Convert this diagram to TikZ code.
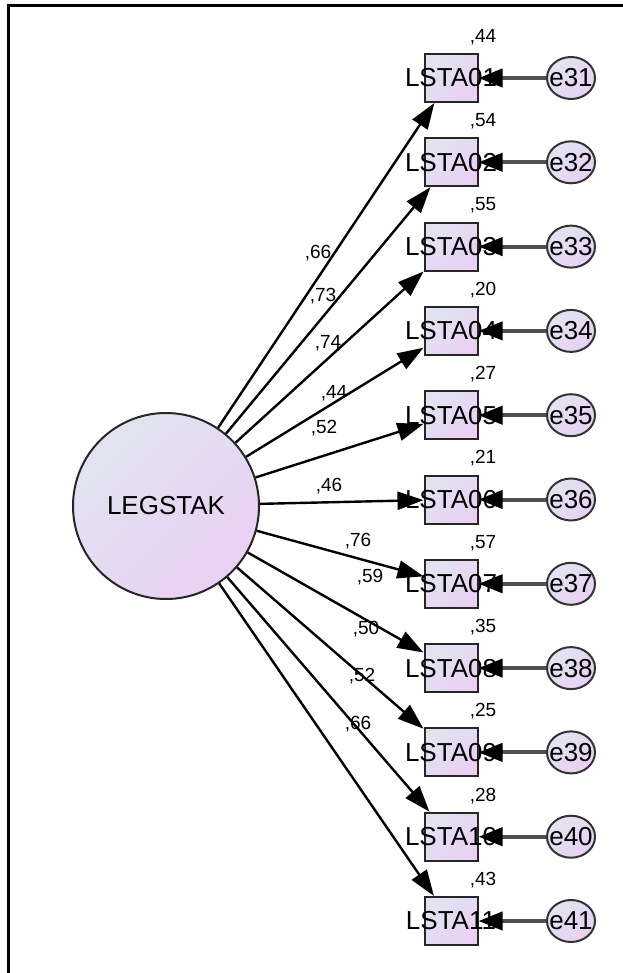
\documentclass[tikz,border=0pt]{standalone}
\usepackage{fontspec}
\setmainfont{Liberation Sans}
\usetikzlibrary{arrows.meta,shapes.geometric}
\definecolor{fillA}{RGB}{225,228,240}
\definecolor{fillB}{RGB}{234,208,243}
\definecolor{errline}{RGB}{80,80,80}
\begin{document}
\begin{tikzpicture}[x=1pt,y=-1pt,
  lat/.style={circle,draw=black!85,line width=2pt,minimum size=186pt,inner sep=0pt,
    top color=fillA,bottom color=fillB,shading angle=45,font=\fontsize{26}{30}\selectfont},
  obs/.style={rectangle,draw=black!85,line width=2pt,minimum width=53pt,minimum height=48pt,inner sep=0pt,
    top color=fillA,bottom color=fillB,shading angle=45,font=\fontsize{26}{30}\selectfont},
  err/.style={ellipse,draw=black!80,line width=2pt,minimum width=48pt,minimum height=42pt,inner sep=0pt,
    top color=fillA,bottom color=fillB,shading angle=45,font=\fontsize{26}{30}\selectfont},
  num/.style={inner sep=0pt,font=\fontsize{19}{22}\selectfont},
  patharrow/.style={draw=black,line width=2.4pt,-{Triangle[length=26pt,width=18pt]}},
  errarrow/.style={draw=errline,line width=4pt,-{Triangle[length=24pt,width=18pt,fill=black,color=black]}}
]
\useasboundingbox (0,0) rectangle (622,973);
\draw[line width=3pt,line cap=rect] (8,973) -- (8,6) -- (622,6);

\node[lat] (L) at (166,506) {\makebox[0pt]{LEGSTAK}};

\foreach \i/\v in {1/44,2/54,3/55,4/20,5/27,6/21,7/57,8/35,9/25,10/28,11/43}{
  \pgfmathsetmacro\yy{78+84.3*(\i-1)}
  \pgfmathtruncatemacro\en{30+\i}
  \node[obs] (b\i) at (451,\yy) {\makebox[0pt]{LSTA\ifnum\i<10 0\fi\i}};
  \node[err] (e\i) at (571,\yy) {\makebox[0pt]{e\en}};
  \node[num] (v\i) at (483,\yy-41) {,\v};
}

\foreach \i/\c/\px/\py in {1/66/318/253,2/73/323/296,3/74/328/343,4/44/334/393,5/52/324/428,
  6/46/329/486,7/76/358/541,8/59/370/577,9/50/366/629,10/52/362/676,11/66/358/724}{
  \draw[patharrow] (L) -- (b\i);
  \node[num] (c\i) at (\px,\py) {,\c};
}

\foreach \i in {1,...,11}{
  \draw[errarrow] (e\i) -- (b\i);
}
\end{tikzpicture}
\end{document}
